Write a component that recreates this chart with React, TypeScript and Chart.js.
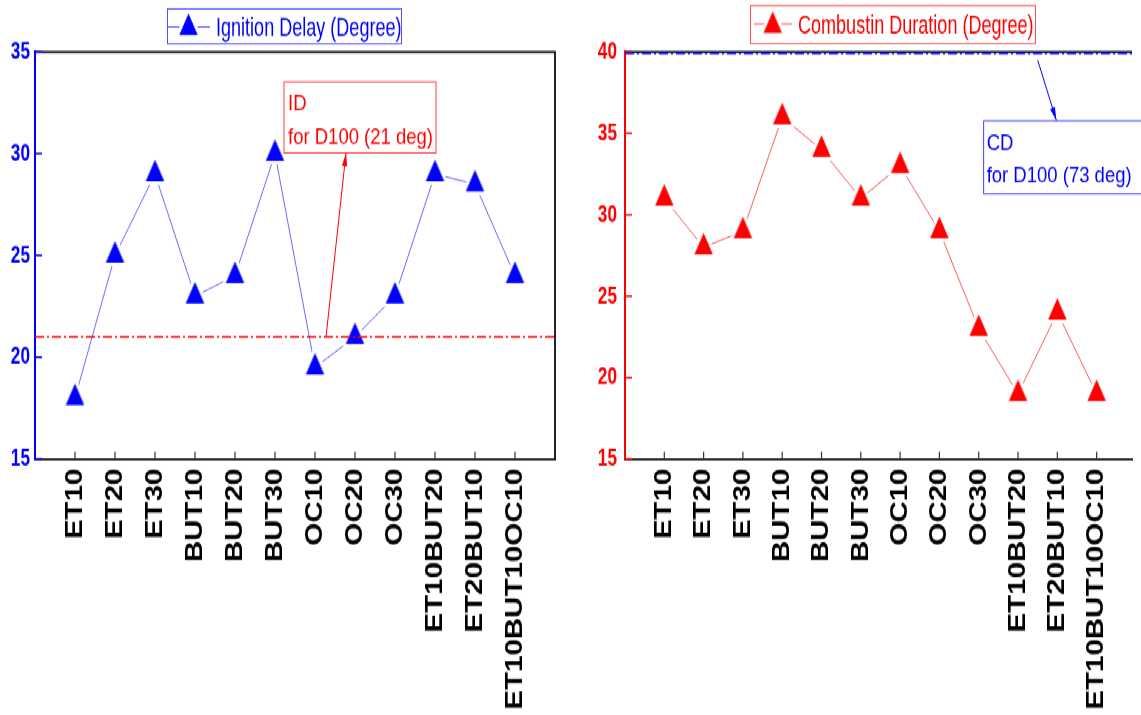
import React, { useEffect, useRef } from 'react';
import { Chart, registerables } from 'chart.js';

Chart.register(...registerables);

// ---------- data ----------
const categories = ['ET10', 'ET20', 'ET30', 'BUT10', 'BUT20', 'BUT30', 'OC10', 'OC20', 'OC30', 'ET10BUT20', 'ET20BUT10', 'ET10BUT10OC10'];
const ignitionDelay = [18, 25, 29, 23, 24, 30, 19.5, 21, 23, 29, 28.5, 24];
const combustionDuration = [31, 28, 29, 36, 34, 31, 33, 29, 23, 19, 24, 19];
const ignitionTicks = [15, 20, 25, 30, 35];
const combustionTicks = [15, 20, 25, 30, 35, 40];
const ignitionReferenceD100 = 21;
const combustionReferenceD100 = 73;
const ignitionLegend = 'Ignition Delay (Degree)';
const combustionLegend = 'Combustin Duration (Degree)';

// ---------- style ----------
const STRETCH = 1.2;
const CANVAS_H = 596;
const NARROW_X = 0.82;
const ARIAL = "'Liberation Sans', Arial, sans-serif";

function makeTriangle(color: string): HTMLCanvasElement {
  const w = 18.5, h = 18, pad = 3;
  const cw = Math.ceil(w + 2 * pad + 2);
  const ch = Math.ceil(2 * (pad + 1 + (2 * h) / 3));
  const apexY = ch / 2 - (2 * h) / 3;
  const c = document.createElement('canvas');
  c.width = cw;
  c.height = ch;
  const ctx = c.getContext('2d')!;
  const cx = cw / 2;
  ctx.beginPath();
  ctx.moveTo(cx, apexY);
  ctx.lineTo(cx + w / 2, apexY + h);
  ctx.lineTo(cx - w / 2, apexY + h);
  ctx.closePath();
  ctx.lineJoin = 'round';
  ctx.strokeStyle = '#ffffff';
  ctx.lineWidth = 2 * pad;
  ctx.stroke();
  ctx.fillStyle = color;
  ctx.fill();
  return c;
}

function drawArrow(ctx: CanvasRenderingContext2D, x0: number, y0: number, x1: number, y1: number, color: string) {
  const headLen = 11, headW = 2.6;
  ctx.strokeStyle = color;
  ctx.fillStyle = color;
  ctx.lineWidth = 1;
  ctx.setLineDash([]);
  ctx.beginPath();
  ctx.moveTo(x0, y0);
  ctx.lineTo(x1, y1);
  ctx.stroke();
  const a = Math.atan2(y1 - y0, x1 - x0);
  const bx = x1 - headLen * Math.cos(a);
  const by = y1 - headLen * Math.sin(a);
  ctx.beginPath();
  ctx.moveTo(x1, y1);
  ctx.lineTo(bx + headW * Math.sin(a), by - headW * Math.cos(a));
  ctx.lineTo(bx - headW * Math.sin(a), by + headW * Math.cos(a));
  ctx.closePath();
  ctx.fill();
}

function narrowText(ctx: CanvasRenderingContext2D, text: string, x: number, y: number, align: CanvasTextAlign, baseline: CanvasTextBaseline) {
  ctx.save();
  ctx.translate(x, y);
  ctx.scale(NARROW_X, 1);
  ctx.textAlign = align;
  ctx.textBaseline = baseline;
  ctx.fillText(text, 0, 0);
  ctx.restore();
}

function makeDecor(cfg: any) {
  return {
    id: 'decor',
    afterDraw(chart: any) {
      const { ctx, chartArea: a } = chart;
      const x = chart.scales.x;
      const y = chart.scales.y;
      ctx.save();
      // top / right frame
      ctx.strokeStyle = '#000';
      ctx.lineWidth = 1.7;
      ctx.beginPath();
      ctx.moveTo(a.left, a.top);
      ctx.lineTo(a.right, a.top);
      if (cfg.rightBorder) ctx.lineTo(a.right, a.bottom);
      ctx.stroke();
      // inward y ticks + narrow bold labels
      ctx.strokeStyle = cfg.color;
      ctx.fillStyle = cfg.color;
      ctx.lineWidth = 1.5;
      ctx.font = `bold 21px ${ARIAL}`;
      cfg.yTicks.forEach((v: number) => {
        const py = y.getPixelForValue(v);
        ctx.beginPath();
        ctx.moveTo(a.left, py);
        ctx.lineTo(a.left + 7, py);
        ctx.stroke();
        narrowText(ctx, String(v), a.left - cfg.yPad, py, 'right', 'middle');
      });
      // inward x ticks
      ctx.strokeStyle = '#333';
      ctx.lineWidth = 1.2;
      categories.forEach((_, i) => {
        const px = x.getPixelForValue(i + 1);
        ctx.beginPath();
        ctx.moveTo(px, a.bottom);
        ctx.lineTo(px, a.bottom - 6);
        ctx.stroke();
      });
      // reference line (D100)
      const refVal = Math.min(cfg.ref, y.max);
      const ry = y.getPixelForValue(refVal) + cfg.refOffset;
      ctx.strokeStyle = cfg.refColor;
      ctx.lineWidth = 1.7;
      ctx.setLineDash([9, 3, 2, 3]);
      ctx.beginPath();
      ctx.moveTo(a.left, ry);
      ctx.lineTo(a.right, ry);
      ctx.stroke();
      ctx.setLineDash([]);
      // annotation box
      const b = cfg.box;
      const bx0 = x.getPixelForValue(b.x0);
      const bx1 = x.getPixelForValue(b.x1);
      const by0 = y.getPixelForValue(b.y0);
      const by1 = y.getPixelForValue(b.y1);
      ctx.strokeStyle = cfg.boxBorder;
      ctx.lineWidth = 1;
      ctx.strokeRect(bx0, by0, bx1 - bx0, by1 - by0);
      ctx.fillStyle = cfg.refColor;
      ctx.font = `18.5px ${ARIAL}`;
      ctx.textAlign = 'left';
      ctx.textBaseline = 'alphabetic';
      ctx.fillText(b.line1, bx0 + b.dx, by0 + b.base1);
      ctx.fillText(b.line2, bx0 + b.dx, by0 + b.base2);
      // arrow
      const ar = cfg.arrow;
      drawArrow(ctx, x.getPixelForValue(ar.x0), y.getPixelForValue(ar.y0), x.getPixelForValue(ar.x1), y.getPixelForValue(ar.y1), cfg.refColor);
      // legend
      const L = cfg.legend;
      ctx.strokeStyle = cfg.legendBorder;
      ctx.lineWidth = 1;
      ctx.strokeRect(L.x + 0.5, L.y + 0.5, L.w, L.h);
      ctx.strokeStyle = cfg.lineColor;
      ctx.beginPath();
      ctx.moveTo(L.lx0, L.lineY);
      ctx.lineTo(L.lx1, L.lineY);
      ctx.stroke();
      const tri = cfg.tri;
      ctx.drawImage(tri, L.triX - tri.width / 2, L.triY - tri.height / 2);
      ctx.fillStyle = cfg.color;
      ctx.font = `22px ${ARIAL}`;
      narrowText(ctx, L.text, L.textX, L.baseline, 'left', 'alphabetic');
      ctx.restore();
    },
  };
}

function buildConfig(p: any): any {
  return {
    type: 'line',
    data: {
      datasets: [
        {
          data: categories.map((c, i) => ({ x: i + 1, y: p.values[i] })),
          borderColor: p.lineColor,
          borderWidth: 1,
          pointStyle: p.tri,
          pointRadius: 8,
          pointHoverRadius: 8,
          tension: 0,
          fill: false,
        },
      ],
    },
    options: {
      animation: false,
      responsive: true,
      maintainAspectRatio: false,
      events: [],
      layout: { padding: { top: 43.3, right: p.padRight, left: 0, bottom: 0 } },
      plugins: { legend: { display: false }, tooltip: { enabled: false }, title: { display: false } },
      scales: {
        x: {
          type: 'linear',
          min: 0,
          max: p.xMax,
          afterBuildTicks: (s: any) => {
            s.ticks = categories.map((_, i) => ({ value: i + 1 }));
          },
          afterFit: (s: any) => {
            s.height = CANVAS_H - 382.5;
          },
          ticks: {
            autoSkip: false,
            minRotation: 90,
            maxRotation: 90,
            padding: 8,
            color: '#000',
            font: { family: ARIAL, size: 24.6, weight: 'bold' },
            callback: (v: number) => categories[Math.round(v) - 1] ?? '',
          },
          grid: { display: false, drawTicks: false },
          border: { display: true, color: '#222', width: 1.8 },
        },
        y: {
          type: 'linear',
          min: p.yTicks[0],
          max: p.yTicks[p.yTicks.length - 1],
          afterBuildTicks: (s: any) => {
            s.ticks = p.yTicks.map((v: number) => ({ value: v }));
          },
          afterFit: (s: any) => {
            s.width = p.yWidth;
          },
          ticks: { display: false },
          grid: { display: false, drawTicks: false },
          border: { display: true, color: p.color, width: 2 },
        },
      },
    },
    plugins: [makeDecor(p.decor)],
  };
}

export default function App() {
  const leftRef = useRef<HTMLCanvasElement>(null);
  const rightRef = useRef<HTMLCanvasElement>(null);

  useEffect(() => {
    document.body.style.margin = '0';
    document.body.style.overflow = 'hidden';
    const blueTri = makeTriangle('#0000ff');
    const redTri = makeTriangle('#ff0000');

    const left = new Chart(
      leftRef.current!,
      buildConfig({
        values: ignitionDelay,
        yTicks: ignitionTicks,
        xMax: 13,
        padRight: 15,
        yWidth: 35,
        color: '#0000ff',
        lineColor: '#6a6aff',
        tri: blueTri,
        decor: {
          color: '#0000ff',
          yTicks: ignitionTicks,
          yPad: 5,
          rightBorder: true,
          ref: ignitionReferenceD100,
          refOffset: 0,
          refColor: '#ff0000',
          boxBorder: '#ff4040',
          box: { x0: 6.225, x1: 10.025, y0: 33.53, y1: 30.04, dx: 4, base1: 23.3, base2: 51.7, line1: 'ID', line2: `for D100 (${ignitionReferenceD100} deg)` },
          arrow: { x0: 7.275, y0: ignitionReferenceD100, x1: 7.775, y1: 30.04 },
          legendBorder: '#5050ff',
          lineColor: '#6a6aff',
          tri: blueTri,
          legend: { x: 167, y: 6.9, w: 234, h: 29.2, lx0: 168, lx1: 210, lineY: 22.5, triX: 188.5, triY: 23.2, textX: 216, baseline: 29.7, text: ignitionLegend },
        },
      })
    );

    const right = new Chart(
      rightRef.current!,
      buildConfig({
        values: combustionDuration,
        yTicks: combustionTicks,
        xMax: 12.9,
        padRight: 0,
        yWidth: 55,
        color: '#ff0000',
        lineColor: '#ff5a5a',
        tri: redTri,
        decor: {
          color: '#ff0000',
          yTicks: combustionTicks,
          yPad: 8,
          rightBorder: false,
          ref: combustionReferenceD100,
          refOffset: 1,
          refColor: '#0000ff',
          boxBorder: '#4040ff',
          box: { x0: 9.125, x1: 13.6, y0: 35.76, y1: 31.28, dx: 3, base1: 24.2, base2: 50.8, line1: 'CD', line2: `for D100 (${combustionReferenceD100} deg)` },
          arrow: { x0: 10.5, y0: 39.5, x1: 10.975, y1: 35.8 },
          legendBorder: '#ff5050',
          lineColor: '#ff5a5a',
          tri: redTri,
          legend: { x: 180, y: 4.2, w: 285, h: 31.7, lx0: 184, lx1: 222, lineY: 20, triX: 202.7, triY: 21.5, textX: 228, baseline: 27.7, text: combustionLegend },
        },
      })
    );

    return () => {
      left.destroy();
      right.destroy();
    };
  }, []);

  return (
    <div
      style={{
        position: 'fixed',
        left: 0,
        top: 0,
        width: 1141,
        height: CANVAS_H,
        transform: `scaleY(${STRETCH})`,
        transformOrigin: '0 0',
        background: '#fff',
      }}
    >
      <div style={{ position: 'absolute', left: 0, top: 0, width: 570, height: CANVAS_H }}>
        <canvas ref={leftRef} />
      </div>
      <div style={{ position: 'absolute', left: 570, top: 0, width: 571, height: CANVAS_H }}>
        <canvas ref={rightRef} />
      </div>
    </div>
  );
}
